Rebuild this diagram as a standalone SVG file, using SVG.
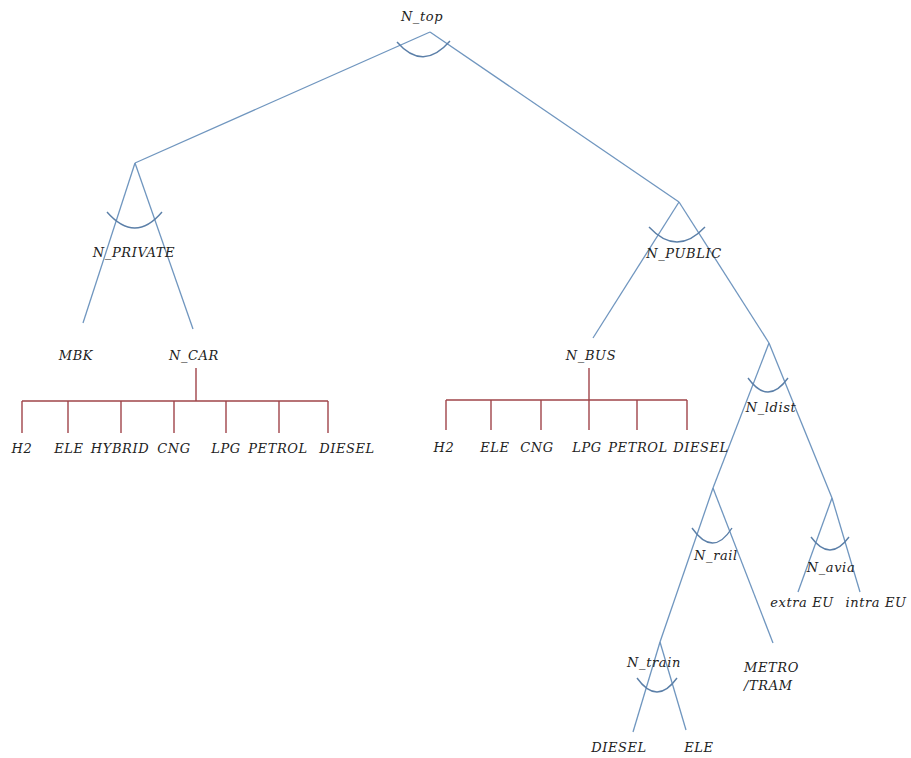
<svg xmlns="http://www.w3.org/2000/svg" width="911" height="758" viewBox="0 0 911 758">
<style>
  .b { stroke: #7096bf; stroke-width: 1.3; fill: none; }
  .a { stroke: #5b7fa8; stroke-width: 1.4; fill: none; }
  .r { stroke: #a0454a; stroke-width: 1.4; fill: none; }
  text { font-family: "DejaVu Serif", "Liberation Serif", serif; font-style: italic; font-size: 13px; fill: #222222; text-anchor: middle; letter-spacing: 0.6px; }
</style>
<rect width="911" height="758" fill="#ffffff"/>
<g id="connectors">
  <line class="b" x1="430" y1="32" x2="135" y2="163"/>
  <line class="b" x1="430" y1="32" x2="679" y2="202"/>
  <line class="b" x1="135" y1="163" x2="83" y2="323"/>
  <line class="b" x1="135" y1="163" x2="193" y2="329"/>
  <line class="b" x1="679" y1="202" x2="593" y2="338"/>
  <line class="b" x1="679" y1="202" x2="769" y2="343"/>
  <line class="b" x1="769" y1="343" x2="713" y2="488"/>
  <line class="b" x1="769" y1="343" x2="832" y2="498"/>
  <line class="b" x1="713" y1="488" x2="660" y2="642"/>
  <line class="b" x1="713" y1="488" x2="773" y2="643"/>
  <line class="b" x1="832" y1="498" x2="798" y2="592"/>
  <line class="b" x1="832" y1="498" x2="860" y2="592"/>
  <line class="b" x1="660" y1="642" x2="633" y2="732"/>
  <line class="b" x1="660" y1="642" x2="686" y2="730"/>
  <path class="r" d="M196,368 V401 M22,401 H328 M22,401 V433 M68,401 V433 M121,401 V433 M174,401 V433 M226,401 V433 M279,401 V433 M328,401 V433"/>
  <path class="r" d="M589,368 V400 M446,400 H687 M446,400 V430 M491,400 V430 M541,400 V430 M589,400 V430 M637,400 V430 M687,400 V430"/>
</g>
<g id="N_top">
  <path class="a" d="M397,42 Q423,72 450,41"/>
  <text x="422" y="21">N_top</text>
</g>
<g id="N_PRIVATE">
  <path class="a" d="M107,212 Q135,244 162,212"/>
  <text x="134" y="257">N_PRIVATE</text>
</g>
<g id="MBK"><text x="76" y="360">MBK</text></g>
<g id="N_CAR"><text x="194" y="360">N_CAR</text></g>
<g id="car_H2"><text x="22" y="453">H2</text></g>
<g id="car_ELE"><text x="69" y="453">ELE</text></g>
<g id="car_HYBRID"><text x="120" y="453">HYBRID</text></g>
<g id="car_CNG"><text x="174" y="453">CNG</text></g>
<g id="car_LPG"><text x="226" y="453">LPG</text></g>
<g id="car_PETROL"><text x="278" y="453">PETROL</text></g>
<g id="car_DIESEL"><text x="347" y="453">DIESEL</text></g>
<g id="N_PUBLIC">
  <path class="a" d="M649,227 Q677,257 705,227"/>
  <text x="684" y="258">N_PUBLIC</text>
</g>
<g id="N_BUS"><text x="591" y="360">N_BUS</text></g>
<g id="bus_H2"><text x="444" y="452">H2</text></g>
<g id="bus_ELE"><text x="495" y="452">ELE</text></g>
<g id="bus_CNG"><text x="537" y="452">CNG</text></g>
<g id="bus_LPG"><text x="587" y="452">LPG</text></g>
<g id="bus_PETROL"><text x="638" y="452">PETROL</text></g>
<g id="bus_DIESEL"><text x="701" y="452">DIESEL</text></g>
<g id="N_ldist">
  <path class="a" d="M748,378 Q768,406 788,378"/>
  <text x="771" y="412">N_ldist</text>
</g>
<g id="N_rail">
  <path class="a" d="M692,528 Q713,558 732,528"/>
  <text x="716" y="560">N_rail</text>
</g>
<g id="N_avia">
  <path class="a" d="M811,537 Q830,563 849,537"/>
  <text x="831" y="572">N_avia</text>
</g>
<g id="extra_EU"><text x="802" y="607">extra EU</text></g>
<g id="intra_EU"><text x="876" y="607">intra EU</text></g>
<g id="N_train">
  <path class="a" d="M637,678 Q657,706 677,678"/>
  <text x="654" y="667">N_train</text>
</g>
<g id="METRO_TRAM">
  <text x="744" y="672" style="text-anchor:start">METRO</text>
  <text x="744" y="690" style="text-anchor:start">/TRAM</text>
</g>
<g id="train_DIESEL"><text x="619" y="752">DIESEL</text></g>
<g id="train_ELE"><text x="699" y="752">ELE</text></g>
</svg>
